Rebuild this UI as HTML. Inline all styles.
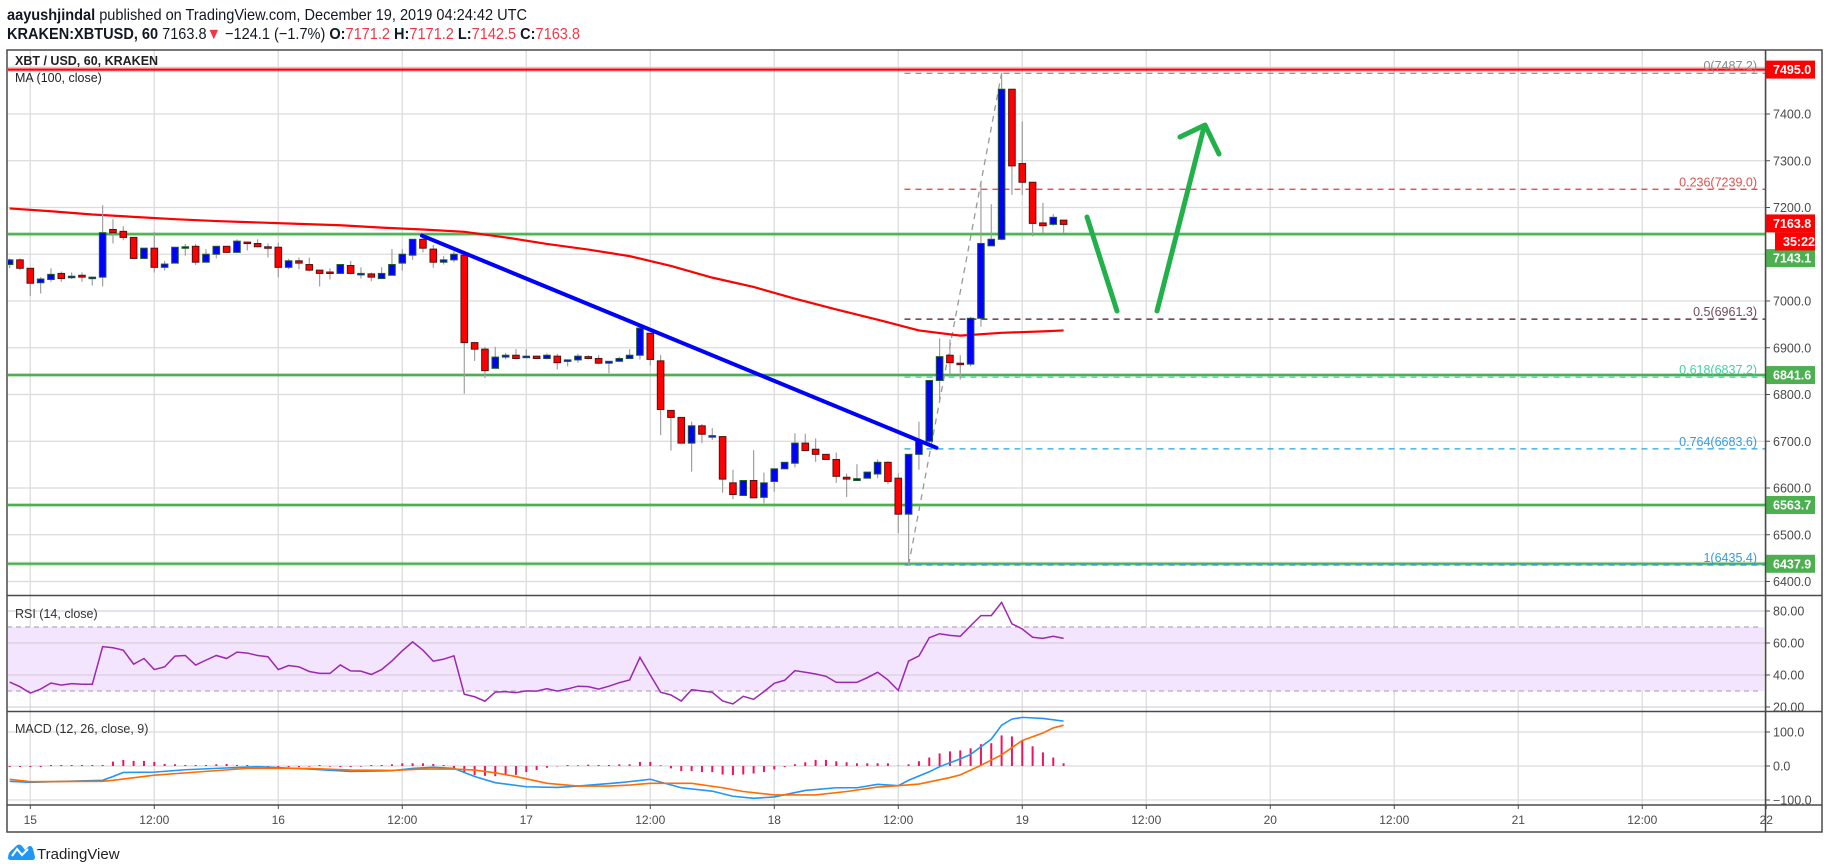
<!DOCTYPE html>
<html><head><meta charset="utf-8"><style>
html,body{margin:0;padding:0;background:#fff;}
svg{display:block;font-family:"Liberation Sans",sans-serif;}
</style></head><body>
<svg id="chart" width="1828" height="868" viewBox="0 0 1828 868" xmlns="http://www.w3.org/2000/svg">
<defs><clipPath id="mainClip"><rect x="8" y="51" width="1757" height="544"/></clipPath>
<clipPath id="rsiClip"><rect x="8" y="596" width="1757" height="115"/></clipPath>
<clipPath id="macdClip"><rect x="8" y="712" width="1757" height="93"/></clipPath></defs>
<text x="7" y="20" font-size="16" fill="#131722" textLength="520" lengthAdjust="spacingAndGlyphs"><tspan font-weight="bold">aayushjindal</tspan> published on TradingView.com, December 19, 2019 04:24:42 UTC</text>
<text x="7" y="39" font-size="16" fill="#131722" textLength="573" lengthAdjust="spacingAndGlyphs"><tspan font-weight="bold">KRAKEN:XBTUSD, 60</tspan> 7163.8<tspan fill="#f23645">▼</tspan> −124.1 (−1.7%) <tspan font-weight="bold">O:</tspan><tspan fill="#f23645">7171.2</tspan> <tspan font-weight="bold">H:</tspan><tspan fill="#f23645">7171.2</tspan> <tspan font-weight="bold">L:</tspan><tspan fill="#f23645">7142.5</tspan> <tspan font-weight="bold">C:</tspan><tspan fill="#f23645">7163.8</tspan></text>
<g id="grid"></g>
<g id="rsiG" clip-path="url(#rsiClip)"></g>
<g id="macdG" clip-path="url(#macdClip)"></g>
<g id="mainG" clip-path="url(#mainClip)"></g>
<g id="axisG"></g>
<rect x="7" y="50" width="1815" height="782" fill="none" stroke="#4a4a4a" stroke-width="1.5"/>
<line x1="1765.5" y1="50" x2="1765.5" y2="832" stroke="#4a4a4a" stroke-width="1.5"/>
<line x1="7" y1="595.5" x2="1822" y2="595.5" stroke="#4a4a4a" stroke-width="1.5"/>
<line x1="7" y1="711.5" x2="1822" y2="711.5" stroke="#4a4a4a" stroke-width="1.5"/>
<line x1="7" y1="805" x2="1822" y2="805" stroke="#4a4a4a" stroke-width="1.5"/>
<text x="15" y="65" font-size="12.5" font-weight="bold" fill="#222">XBT / USD, 60, KRAKEN</text>
<text x="15" y="82" font-size="12.5" fill="#222">MA (100, close)</text>
<text x="15" y="618" font-size="12.5" fill="#333">RSI (14, close)</text>
<text x="15" y="733" font-size="12.5" fill="#333">MACD (12, 26, close, 9)</text>
<g>
<path d="M8 858 Q8 852 13 849 L16 846 Q19 843 22 846 L25 850 L28 847 Q31 844 33 849 L35 857 Q35 860 32 860 L11 860 Q8 860 8 858 Z" fill="#2196f3"/>
<path d="M12 856 L17 849 L22 855 L28 849" fill="none" stroke="#fff" stroke-width="2"/>
<text x="37" y="859" font-size="15" fill="#222">TradingView</text>
</g>
</svg>
<script>
const NS="http://www.w3.org/2000/svg";
// ---- data ----
const tStart=-2;
const opens=[7078,7088,7070,7039,7046,7059,7050,7055,7051,7051,7153,7149,7136,7091,7113,7072,7081,7114,7117,7083,7100,7117,7104,7126,7123,7116,7115,7072,7086,7078,7066,7062,7059,7076,7056,7058,7048,7055,7081,7098,7132,7111,7083,7088,7098,6911,6897,6856,6880,6884,6880,6882,6877,6882,6873,6874,6881,6877,6867,6871,6877,6884,6931,6872,6766,6751,6696,6733,6711,6710,6611,6584,6616,6580,6614,6641,6653,6696,6683,6672,6661,6623,6616,6621,6630,6655,6621,6544,6672,6700,6830,6884,6867,6865,6963,7118,7132,7453,7294,7254,7167,7164,7173];
const highs=[7091,7091,7070,7051,7070,7063,7061,7061,7052,7205,7175,7160,7136,7113,7148,7086,7115,7122,7122,7111,7117,7117,7132,7126,7132,7123,7125,7090,7093,7093,7066,7070,7078,7086,7072,7061,7072,7111,7111,7132,7141,7120,7096,7106,7102,6913,6902,6902,6889,6897,6897,6883,6888,6887,6875,6887,6884,6884,6871,6881,6897,6942,6931,6884,6766,6751,6742,6737,6728,6710,6639,6616,6681,6633,6641,6655,6717,6716,6706,6672,6676,6631,6651,6634,6661,6657,6631,6672,6742,6830,6920,6918,6884,6966,7255,7207,7488,7453,7384,7255,7210,7186,7173];
const lows=[7070,7066,7011,7016,7041,7041,7047,7041,7033,7031,7123,7130,7091,7091,7061,7065,7081,7097,7077,7083,7091,7104,7104,7108,7115,7093,7051,7068,7068,7063,7031,7046,7059,7057,7048,7042,7048,7055,7065,7088,7104,7071,7078,7083,6802,6872,6835,6856,6875,6875,6877,6876,6875,6854,6860,6868,6875,6865,6845,6871,6877,6875,6862,6713,6680,6696,6635,6696,6703,6590,6576,6584,6579,6567,6592,6641,6644,6680,6656,6661,6611,6581,6616,6621,6621,6608,6503,6435,6639,6696,6788,6842,6832,6860,6945,7118,7130,7227,7227,7138,7145,7161,7145];
const closes=[7088,7070,7038,7047,7057,7048,7053,7051,7051,7146,7146,7136,7091,7113,7072,7079,7115,7116,7083,7100,7117,7104,7128,7123,7116,7114,7072,7086,7081,7066,7059,7059,7078,7059,7059,7051,7059,7078,7100,7132,7113,7083,7088,7100,6911,6897,6851,6880,6884,6877,6882,6877,6884,6868,6874,6882,6877,6867,6871,6877,6884,6942,6875,6768,6751,6696,6733,6715,6712,6619,6586,6616,6579,6611,6641,6655,6696,6680,6672,6661,6625,6619,6620,6634,6655,6614,6544,6672,6700,6830,6881,6868,6865,6963,7123,7132,7453,7289,7254,7166,7161,7179,7163.8];
const maT=[-2,2,6,10,14,18,22,26,30,34,38,42,46,50,54,58,62,66,70,74,78,82,86,90,94,98,100];
const maV=[7198,7192,7185,7180,7175,7171,7168,7165,7162,7157,7153,7148,7136,7122,7110,7096,7075,7050,7030,7005,6982,6960,6937,6926,6932,6935,6937];
const rsiV=[35.6,32.7,28.7,31.2,35,33.7,34.6,34.2,34.2,57.7,57,55.5,46.8,50.3,43.4,45.1,51.8,52.2,46.2,49.3,52.2,50.3,54.3,53.7,52.2,51.4,43.4,45.9,45.1,42.2,41,41,46.3,42.6,42.4,40.3,43.4,48.8,55.1,60.7,55.5,48.6,49.9,52,28,26.4,23.6,29.3,29.6,29,30.1,29.9,31.5,29.9,31.3,33,32.7,31.2,33,35.2,36.9,51,40,29.2,27.5,23.75,30.8,30,29.2,23.75,21.9,26.7,24.8,29.6,34.8,36.7,42.7,41.7,40.6,39.2,35.4,35.4,35.4,38.3,41.7,36.9,30.4,48.7,51.9,63.3,65.8,64.8,64.2,70.8,77.1,77.1,85.4,72,68.75,63.6,62.9,64.2,62.9];
const macdT=[-2,0,7,8,9,12,15,18,22,24,27,31,35,37,39,41,43,45,48,51,53,57,58,60,63,66,68,70,72,75,78,80,82,84,85,87,88,90,91,93,94,95,96,98,100];
const macdV=[-45,-48,-42,-31,-19,-18,-11,-7,-2,-5,-9,-16,-14,-7,-4,-7,-31,-49,-61,-63,-59,-49,-46,-39,-64,-74,-89,-95,-91,-72,-64,-64,-54,-58,-42,-17,-2,21,34,79,120,138,143,140,132];
const sigT=[-2,0,7,8,12,16,21,27,31,35,38,41,43,45,47,50,53,56,58,60,64,67,69,72,76,79,82,84,86,89,90,92,94,96,98,99,100];
const sigV=[-39,-46,-45,-42,-27,-18,-7,-7,-12,-13,-9,-9,-12,-20,-31,-51,-59,-59,-56,-51,-51,-64,-75,-85,-85,-75,-62,-58,-53,-34,-26,2,33,75,97,112,120];
const histV=[-3,-3,-3,-3,0,0,0,0,0,3,13,18,15,15,12,6,5,3,3,3,5,6,3,0,-3,-3,-3,-3,-3,-2,0,-2,-3,-3,-2,0,0,5,8,8,8,6,3,-6,-18,-27,-29,-30,-26,-26,-18,-12,-5,-1,0,2,4,3,3,5,5,12,12,2,-7,-15,-15,-18,-18,-25,-27,-25,-22,-18,-10,-3,5,11,18,18,14,11,8,8,8,8,1,5,14,25,37,43,46,52,64,67,90,87,75,58,40,25,8];
const priceTicks=[7400,7300,7200,7100,7000,6900,6800,6700,6600,6500,6400];
const priceTickLabels=["7400.0","7300.0","7200.0","7100.0","7000.0","6900.0","6800.0","6700.0","6600.0","6500.0","6400.0"];
const timeTicks=[0,12,24,36,48,60,72,84,96,108,120,132,144,156,168];
const timeLabels=["15","12:00","16","12:00","17","12:00","18","12:00","19","12:00","20","12:00","21","12:00","22"];
const rsiTicks=[80,60,40,20];
const rsiTickLabels=["80.00","60.00","40.00","20.00"];
const macdTicks=[100,0,-100];
const macdTickLabels=["100.0","0.0","−100.0"];
const hLevels=[7143.1,6841.6,6563.7,6437.9];
const hLevelLabels=["7143.1","6841.6","6563.7","6437.9"];
const resistance=7495.0;
const fibLow=6435.4, fibHigh=7487.2, fibT0=85, fibT1=94;
const fibRatios=[0,0.236,0.5,0.618,0.764,1];
const fibColors=["#888","#e53935","#4a1030","#2bd1a0","#29a3e0","#29a3e0"];
const fibLabelColors=["#888","#e05050","#6d4c5b","#40d0a0","#3a9ad9","#3a9ad9"];
const trendT=[37.9,87.7], trendP=[7140,6686];
const lastPrice=7163.8;
// ---- scales ----
const X=t=>30.3+t*10.333;
const Y=p=>301-(p-7000)*0.4675;
const YR=v=>707-(v-20)*1.6;
const YM=v=>766-v*0.34;
function mk(tag,attrs,parent){const e=document.createElementNS(NS,tag);for(const k in attrs)e.setAttribute(k,attrs[k]);parent.appendChild(e);return e;}
const grid=document.getElementById('grid'),mainG=document.getElementById('mainG'),rsiG=document.getElementById('rsiG'),macdG=document.getElementById('macdG'),axisG=document.getElementById('axisG');
timeTicks.forEach((t,i)=>{const l=mk('line',{x1:X(t),x2:X(t),y1:50,y2:805,stroke:'#dcdcdc','stroke-width':1.3},grid);


mk('line',{x1:X(t),x2:X(t),y1:805,y2:809,stroke:'#4a4a4a'},axisG);
const tx=mk('text',{x:X(t),y:824,'font-size':12,fill:'#4a4a4a','text-anchor':'middle'},axisG);tx.textContent=timeLabels[i];

});
[...priceTicks,7500].forEach(p=>{mk('line',{x1:7,x2:1765,y1:Y(p),y2:Y(p),stroke:'#dcdcdc','stroke-width':1.3},grid);});
priceTicks.forEach((p,i)=>{mk('line',{x1:1765,x2:1770,y1:Y(p),y2:Y(p),stroke:'#4a4a4a'},axisG);
const tx=mk('text',{x:1773,y:Y(p)+4.5,'font-size':12.5,fill:'#4a4a4a'},axisG);tx.textContent=priceTickLabels[i];

});
mk('rect',{x:7,y:YR(70),width:1757,height:YR(30)-YR(70),fill:'#f3e5fd'},rsiG);
rsiTicks.forEach((v,i)=>{mk('line',{x1:7,x2:1765,y1:YR(v),y2:YR(v),stroke:'#d8d0dc','stroke-width':1.3},rsiG);
mk('line',{x1:1765,x2:1770,y1:YR(v),y2:YR(v),stroke:'#4a4a4a'},axisG);
const tx=mk('text',{x:1773,y:YR(v)+4.5,'font-size':12.5,fill:'#4a4a4a'},axisG);tx.textContent=rsiTickLabels[i];

});
[70,30].forEach(v=>mk('line',{x1:7,x2:1762,y1:YR(v),y2:YR(v),stroke:'#b8a8c0','stroke-dasharray':'5 4','stroke-width':1.2},rsiG));
const rsiLine=mk('polyline',{points:rsiV.map((v,i)=>X(i+tStart)+','+YR(v)).join(' '),fill:'none',stroke:'#9c27b0','stroke-width':1.5},rsiG);


macdTicks.forEach((v,i)=>{mk('line',{x1:7,x2:1765,y1:YM(v),y2:YM(v),stroke:'#dcdcdc','stroke-width':1.3},macdG);
mk('line',{x1:1765,x2:1770,y1:YM(v),y2:YM(v),stroke:'#4a4a4a'},axisG);
const tx=mk('text',{x:1773,y:YM(v)+4.5,'font-size':12.5,fill:'#4a4a4a'},axisG);tx.textContent=macdTickLabels[i];

});
histV.forEach((v,i)=>{const h=mk('line',{x1:X(i+tStart),x2:X(i+tStart),y1:YM(0),y2:YM(v)+(v===0?-1:0),stroke:'#f0145a','stroke-width':2},macdG);

});
const ml=mk('polyline',{points:macdT.map((t,i)=>X(t)+','+YM(macdV[i])).join(' '),fill:'none',stroke:'#2196f3','stroke-width':1.6},macdG);


const sl=mk('polyline',{points:sigT.map((t,i)=>X(t)+','+YM(sigV[i])).join(' '),fill:'none',stroke:'#ff6d00','stroke-width':1.6},macdG);


hLevels.forEach((p,i)=>{mk('line',{x1:7,x2:1765,y1:Y(p),y2:Y(p),stroke:'#4caf50','stroke-width':4,opacity:0.35},mainG);
const l=mk('line',{x1:7,x2:1765,y1:Y(p),y2:Y(p),stroke:'#4caf50','stroke-width':2},mainG);

});
mk('line',{x1:7,x2:1765,y1:Y(resistance),y2:Y(resistance),stroke:'#ff0000','stroke-width':4,opacity:0.3},mainG);
const rl=mk('line',{x1:7,x2:1765,y1:Y(resistance),y2:Y(resistance),stroke:'#ff0000','stroke-width':2},mainG);


const fx0=X(fibT0-0.4);
fibRatios.forEach((r,i)=>{const p=fibHigh-(fibHigh-fibLow)*r;
const l=mk('line',{x1:fx0,x2:1765,y1:Y(p),y2:Y(p),stroke:fibColors[i],'stroke-width':1.3,'stroke-dasharray':'6 5'},mainG);


const tx=mk('text',{x:1757,y:Y(p)-3,'font-size':12.5,fill:fibLabelColors[i],'text-anchor':'end'},mainG);
tx.textContent=r+'('+p.toFixed(1)+')';

});
const fd=mk('line',{x1:X(fibT0),y1:Y(fibLow),x2:X(fibT1),y2:Y(fibHigh),stroke:'#999','stroke-width':1.3,'stroke-dasharray':'6 5'},mainG);


const ma=mk('polyline',{points:maT.map((t,i)=>X(t)+','+Y(maV[i])).join(' '),fill:'none',stroke:'#ff0000','stroke-width':2.2},mainG);


opens.forEach((o,i)=>{const t=i+tStart,c=closes[i],x=X(t),up=c>=o;
const w=mk('line',{x1:x,x2:x,y1:Y(highs[i]),y2:Y(lows[i]),stroke:'#a0a0a0','stroke-width':1.2},mainG);


const top=Y(Math.max(o,c)),bot=Y(Math.min(o,c));
const b=mk('rect',{x:x-3.3,y:top,width:6.6,height:Math.max(bot-top,1.5),fill:up?'#0000ff':'#ff0000',stroke:up?'#1e5b2a':'#5a1010','stroke-width':1},mainG);

});
const tl=mk('line',{x1:X(trendT[0]),y1:Y(trendP[0]),x2:X(trendT[1]),y2:Y(trendP[1]),stroke:'#0000ff','stroke-width':4,'stroke-linecap':'round'},mainG);


const a1=mk('line',{x1:1087,y1:217,x2:1117,y2:311,stroke:'#22b04b','stroke-width':5,'stroke-linecap':'round'},mainG);


const a2=mk('polyline',{points:'1157,311 1204,127',fill:'none',stroke:'#22b04b','stroke-width':5,'stroke-linecap':'round'},mainG);


const ah=mk('polyline',{points:'1180,137 1205,125 1219,154',fill:'none',stroke:'#22b04b','stroke-width':5,'stroke-linecap':'round','stroke-linejoin':'round'},mainG);


function tag(p,txt,col,yOff,x0){const y=Y(p)+(yOff||0);
const r=mk('rect',{x:x0||1765,y:y-9,width:(1815-(x0||1765)),height:18,fill:col},axisG);


const tx=mk('text',{x:(x0||1765)+8,y:y+4.5,'font-size':12.5,'font-weight':'bold',fill:'#fff'},axisG);tx.textContent=txt;}
tag(resistance,'7495.0','#ff0000',0);
tag(hLevels[0],hLevelLabels[0],'#4caf50',24);
tag(lastPrice,lastPrice.toFixed(1),'#ff0000',-1);
tag(lastPrice,'35:22','#ff0000',17,1775);
tag(hLevels[1],hLevelLabels[1],'#4caf50',0);
tag(hLevels[2],hLevelLabels[2],'#4caf50',0);
tag(hLevels[3],hLevelLabels[3],'#4caf50',0);
</script>
</body></html>
